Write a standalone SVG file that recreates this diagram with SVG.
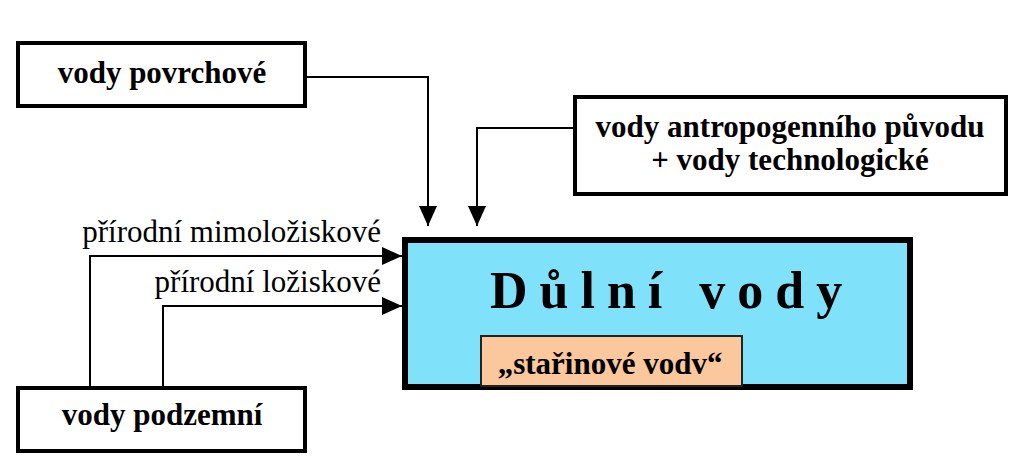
<svg xmlns="http://www.w3.org/2000/svg" width="1024" height="463" viewBox="0 0 1024 463">
<defs>
<style>
.box{fill:#fff;stroke:#000;stroke-width:4}
.lbl{font-family:"Liberation Serif","Times New Roman",serif;font-weight:bold;font-size:31px;fill:#000}
.edge{font-family:"Liberation Serif","Times New Roman",serif;font-size:31px;fill:#000}
.conn{fill:none;stroke:#000;stroke-width:2}
</style>
<marker id="ah" markerUnits="userSpaceOnUse" markerWidth="20" markerHeight="20" viewBox="0 0 20 20" refX="20" refY="10" orient="auto">
<path d="M0,1 L20,10 L0,19 Z" fill="#000"/>
</marker>
</defs>
<rect width="1024" height="463" fill="#fff"/>
<g id="connectors">
<path class="conn" d="M307,77 H428 V226" marker-end="url(#ah)"/>
<path class="conn" d="M573,128 H477 V226" marker-end="url(#ah)"/>
<path class="conn" d="M90,386 V256 H402" marker-end="url(#ah)"/>
<path class="conn" d="M163,386 V306 H402" marker-end="url(#ah)"/>
<text class="edge" x="381" y="242" text-anchor="end">přírodní mimoložiskové</text>
<text class="edge" x="381" y="292" text-anchor="end">přírodní ložiskové</text>
</g>
<g id="node-povrchove">
<rect class="box" x="18" y="43" width="287" height="63"/>
<text class="lbl" x="162" y="83" text-anchor="middle">vody povrchové</text>
</g>
<g id="node-antropogenni">
<rect class="box" x="575" y="97" width="431" height="97"/>
<text class="lbl" x="790" y="137" text-anchor="middle">vody antropogenního původu</text>
<text class="lbl" x="790" y="170" text-anchor="middle">+ vody technologické</text>
</g>
<g id="node-podzemni">
<rect class="box" x="18" y="388" width="287" height="63"/>
<text class="lbl" x="162" y="425" text-anchor="middle">vody podzemní</text>
</g>
<g id="node-dulni">
<rect x="405" y="240" width="505" height="147" fill="#80E2FA" stroke="#000" stroke-width="6"/>
<text x="490" y="308" font-family="'Liberation Serif','Times New Roman',serif" font-weight="bold" font-size="52" letter-spacing="12">Důlní vody</text>
</g>
<g id="node-starinove">
<rect x="481" y="336" width="261" height="50" fill="#FAC89C" stroke="#222" stroke-width="2"/>
<text class="lbl" x="610" y="374" text-anchor="middle">„stařinové vodv“</text>
</g>
</svg>
